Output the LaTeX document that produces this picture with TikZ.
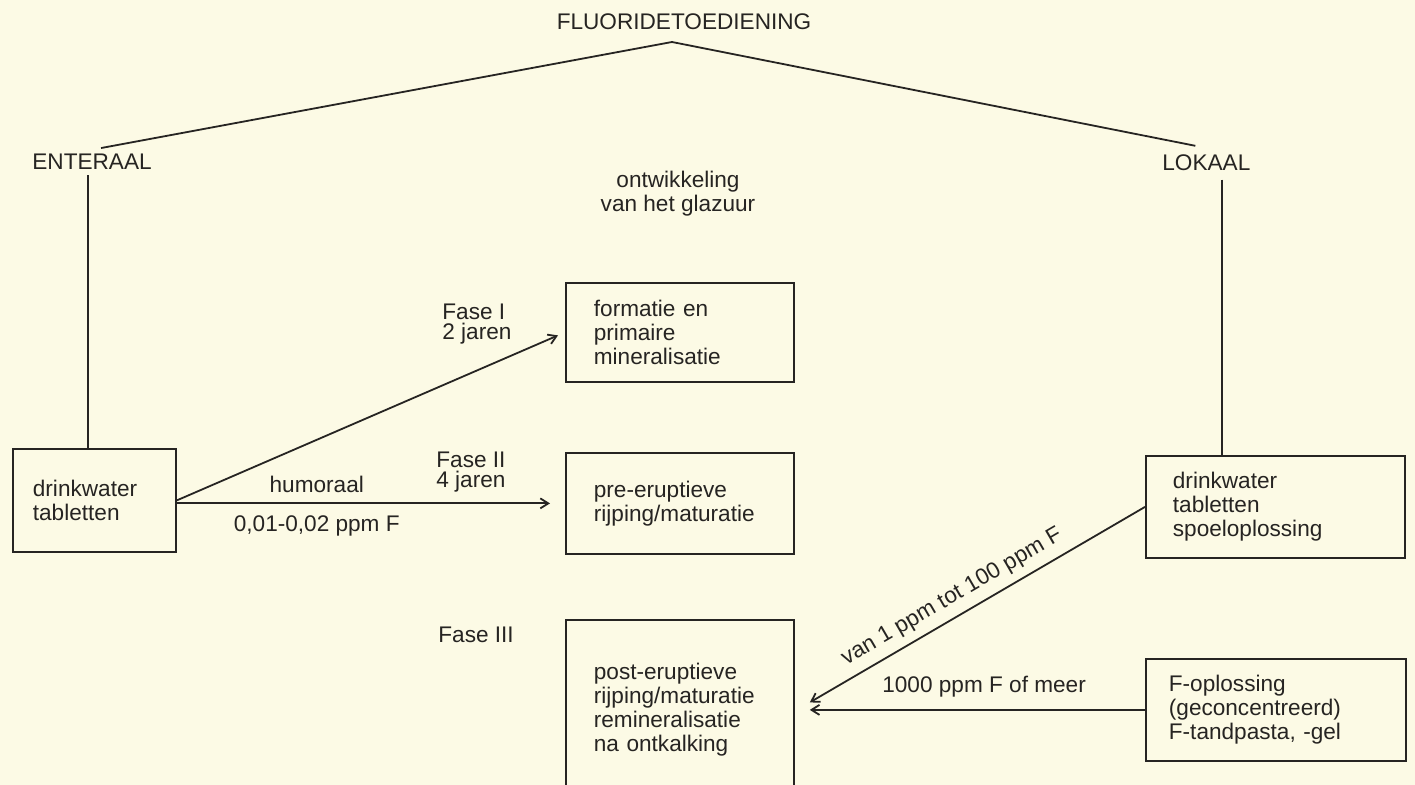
\documentclass[tikz,border=0pt]{standalone}
\usepackage{fontspec}
\setmainfont{Liberation Sans}
\usetikzlibrary{calc,arrows.meta}
\definecolor{papier}{RGB}{252,250,229}
\definecolor{inkt}{RGB}{38,36,34}

\begin{document}
\begin{tikzpicture}[x=0.5pt,y=-0.5pt]
    \tikzstyle{every node}=[font=\fontsize{11.3pt}{12pt}\selectfont, text=inkt]
    \tikzstyle{tekst}=[inner sep=0pt]
    \tikzstyle{vak}=[draw=inkt, line width=0.9pt, anchor=north west, align=left]
    \tikzstyle{lijn}=[draw=inkt, line width=0.9pt]
    \tikzstyle{pijl}=[lijn, -{Straight Barb[length=4pt,width=5pt]}]
    \useasboundingbox (0,0) rectangle (1415,785);
    \fill[papier] (0,0) rectangle (1415,785);
    \clip (0,0) rectangle (1415,785);

    % kop en twee takken
    \node[tekst, anchor=base] (titel) at (684,30) {FLUORIDETOEDIENING};
    \coordinate (top) at (672,42);
    \node[tekst, anchor=base west] (enteraal) at (32,170) {ENTERAAL};
    \node[tekst, anchor=base west] (lokaal) at (1162,171) {LOKAAL};
    \node[tekst, anchor=north, align=center] (glazuur) at (678,171) {ontwikkeling\\van het glazuur};

    % vakken
    \node[vak, inner xsep=10pt, text width=61.5pt, minimum height=51.5pt] (drinkE) at (12,448) {drinkwater\\tabletten};
    \node[vak, inner xsep=14pt, text width=86pt, minimum height=49.5pt] (formatie) at (565,282) {formatie en\\primaire\\mineralisatie};
    \node[vak, inner xsep=14pt, text width=86pt, minimum height=50.5pt] (pre) at (565,452) {pre-eruptieve\\rijping/maturatie};
    \node[vak, inner xsep=14pt, text width=86pt, minimum height=89.5pt] (post) at (565,619) {post-eruptieve\\rijping/maturatie\\remineralisatie\\na ontkalking};
    \node[vak, inner xsep=13.5pt, text width=102.5pt, minimum height=51pt] (lokaalbron) at (1145,455) {drinkwater\\tabletten\\spoeloplossing};
    \node[vak, inner xsep=11.5pt, text width=107pt, minimum height=51pt] (geconc) at (1145,658) {F-oplossing\\(geconcentreerd)\\F-tandpasta, -gel};

    % fasen
    \node[tekst, anchor=north west, align=left] (fase1) at (442,304) {Fase I\\[-2pt]2 jaren};
    \node[tekst, anchor=north west, align=left] (fase2) at (436,452) {Fase II\\[-2pt]4 jaren};
    \node[tekst, anchor=north west] (fase3) at (438,627) {Fase III};

    % verbindingen
    \draw[lijn] ($(enteraal.north)+(9,-6)$) -- (top) -- ($(lokaal.north)+(-11,-9)$);
    \draw[lijn] ($(enteraal.south)+(-4,5)$) coordinate (e1) -- (e1 |- drinkE.north);
    \draw[lijn] ($(lokaal.south)+(16,8)$) coordinate (l1) -- (l1 |- lokaalbron.north);

    \draw[pijl] (drinkE.east) -- ($(formatie.west)+(-7,3)$);
    \draw[pijl] (drinkE.east |- pre.west) -- ($(pre.west)+(-15,0)$)
        node[tekst, pos=0.375, above=5pt] (humoraal) {humoraal}
        node[tekst, pos=0.375, below=5.5pt] (ppm1) {0,01-0,02 ppm F};

    \coordinate (inslag) at ($(post.east)+(15,0)$);
    \draw[pijl] (lokaalbron.west) -- ($(inslag)+(0,-7)$)
        node[tekst, pos=0.547, sloped, above=4pt] (ppm2) {van 1 ppm tot 100 ppm F};
    \draw[pijl] (geconc.west) -- (geconc.west -| inslag)
        node[tekst, pos=0.48, above=6pt] (ppm3) {1000 ppm F of meer};
\end{tikzpicture}
\end{document}
